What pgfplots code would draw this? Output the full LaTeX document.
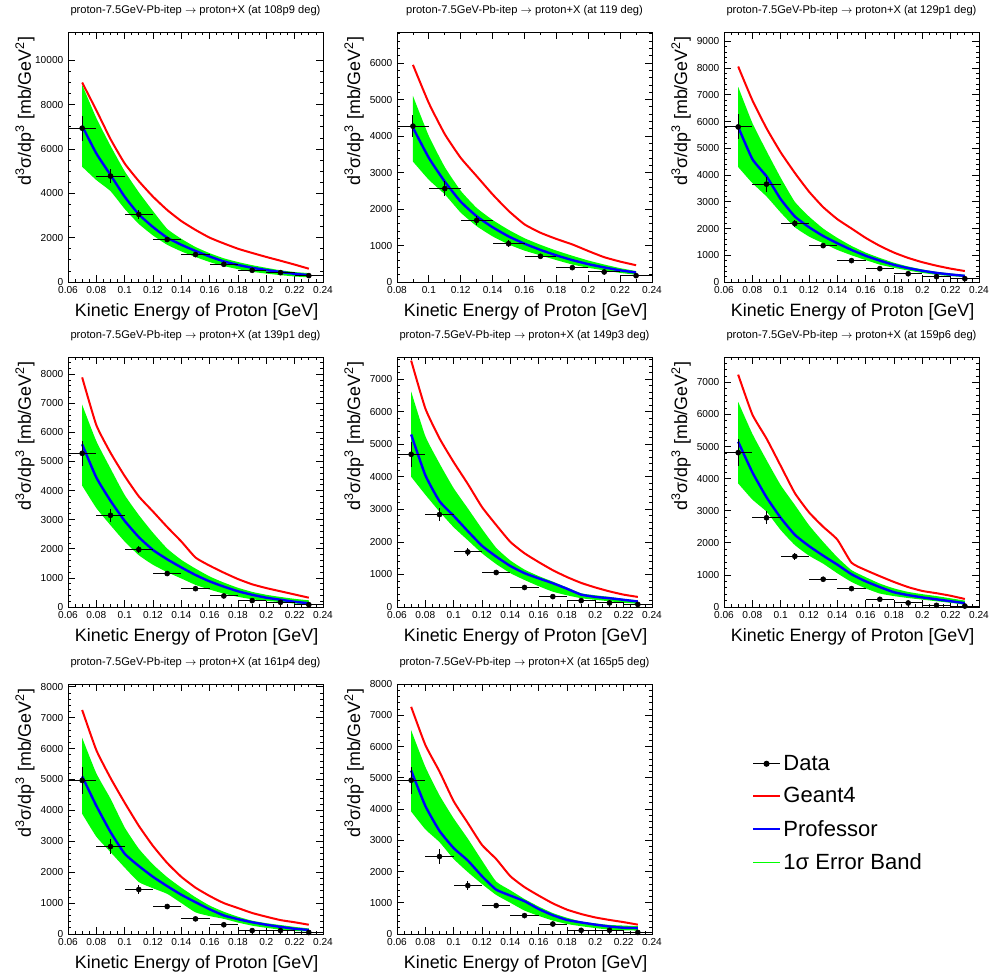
\documentclass[border=0pt]{standalone}
\usepackage{pgfplots}
\usepackage{pgfplotstable}
\usepgfplotslibrary{fillbetween}
\pgfplotsset{compat=1.18}
\usepackage{fontspec}
\setmainfont{Liberation Sans}
\definecolor{rootgreen}{RGB}{0,255,0}
\definecolor{rootred}{RGB}{255,0,0}
\definecolor{rootblue}{RGB}{0,0,255}

% ---------------- curves: x, Geant4, Professor, band upper, band lower
\pgfplotstableread{
x g4 prof up lo
0.07 9000 7040 8900 5200
0.08 7750 5800 7400 4600
0.09 6450 4830 6150 4100
0.10 5350 3850 5000 3300
0.11 4550 3050 4050 2620
0.12 3850 2480 3200 2100
0.13 3250 2000 2400 1680
0.14 2750 1680 1950 1380
0.15 2350 1400 1580 1130
0.16 2000 1150 1300 900
0.17 1740 930 1070 720
0.18 1500 770 900 580
0.19 1310 640 760 460
0.20 1130 540 640 380
0.21 960 450 530 310
0.22 785 370 450 250
0.23 600 310 400 210
}\curvesA
\pgfplotstableread{
x g4 prof up lo
0.09 5950 4230 5100 3300
0.10 4900 3400 4000 2800
0.11 4050 2750 3150 2400
0.12 3400 2200 2500 1900
0.13 2900 1800 2030 1530
0.14 2400 1500 1700 1250
0.15 1950 1250 1430 1030
0.16 1580 1050 1200 860
0.17 1350 880 1020 730
0.18 1180 730 860 600
0.19 1030 600 720 480
0.20 850 490 590 390
0.21 680 400 480 320
0.22 560 320 380 250
0.23 460 260 300 200
}\curvesB
\pgfplotstableread{
x g4 prof up lo
0.07 8060 5800 7300 4300
0.08 6800 4600 5950 3700
0.09 5750 3950 4900 3200
0.10 4850 3100 3900 2600
0.11 4080 2450 3000 2050
0.12 3380 2050 2450 1700
0.13 2800 1720 2000 1450
0.14 2350 1450 1650 1200
0.15 2000 1200 1350 1000
0.16 1650 980 1100 820
0.17 1350 800 900 650
0.18 1100 640 720 530
0.19 900 520 580 430
0.20 740 420 470 340
0.21 610 340 380 270
0.22 500 280 320 220
0.23 410 230 270 180
}\curvesC
\pgfplotstableread{
x g4 prof up lo
0.07 7890 5590 6950 4170
0.08 6250 4450 5700 3400
0.09 5300 3650 4760 2810
0.10 4500 2960 3850 2250
0.11 3800 2400 3160 1780
0.12 3280 1960 2550 1450
0.13 2750 1640 2010 1200
0.14 2250 1360 1620 980
0.15 1700 1100 1320 760
0.16 1420 880 1050 600
0.17 1180 700 840 460
0.18 960 540 660 350
0.19 780 420 520 265
0.20 650 320 420 210
0.21 540 250 345 170
0.22 430 180 280 120
0.23 320 130 230 80
}\curvesD
\pgfplotstableread{
x g4 prof up lo
0.07 7570 5300 6620 4000
0.08 6100 4050 5250 3450
0.09 5180 3250 4410 2930
0.10 4450 2800 3650 2450
0.11 3780 2330 3030 2050
0.12 3070 1880 2400 1650
0.13 2520 1550 1820 1320
0.14 2000 1260 1430 1040
0.15 1650 1040 1150 830
0.16 1380 880 950 640
0.17 1130 730 780 470
0.18 920 560 600 360
0.19 740 380 420 270
0.20 600 310 360 220
0.21 480 270 310 175
0.22 380 220 250 130
0.23 310 170 200 100
}\curvesE
\pgfplotstableread{
x g4 prof up lo
0.07 7240 5150 6390 3850
0.08 6000 4200 5400 3350
0.09 5250 3420 4580 2970
0.10 4400 2780 3800 2400
0.11 3550 2250 3180 1930
0.12 2950 1900 2550 1600
0.13 2500 1600 2030 1350
0.14 2100 1320 1550 1050
0.15 1380 1020 1150 780
0.16 1150 800 930 580
0.17 960 620 730 420
0.18 780 460 580 340
0.19 620 370 470 280
0.20 500 300 400 230
0.21 430 240 340 180
0.22 350 180 270 130
0.23 250 120 200 70
}\curvesF
\pgfplotstableread{
x g4 prof up lo
0.07 7250 5100 6350 3890
0.08 5950 4150 5200 3150
0.09 5050 3300 4380 2650
0.10 4250 2600 3450 2150
0.11 3500 2200 2760 1680
0.12 2850 1850 2250 1480
0.13 2300 1550 1840 1300
0.14 1850 1270 1500 1000
0.15 1500 1030 1190 700
0.16 1230 800 920 580
0.17 1000 600 720 490
0.18 840 480 560 370
0.19 680 380 430 270
0.20 560 300 350 200
0.21 450 230 290 140
0.22 380 170 230 100
0.23 300 130 180 80
}\curvesG
\pgfplotstableread{
x g4 prof up lo
0.07 7270 5230 6520 3920
0.08 6050 4100 5350 3350
0.09 5200 3300 4440 2940
0.10 4250 2750 3700 2400
0.11 3550 2350 3050 1980
0.12 2850 1850 2350 1600
0.13 2400 1420 1680 1250
0.14 1850 1230 1400 1000
0.15 1500 1050 1120 750
0.16 1230 800 880 580
0.17 980 600 670 430
0.18 780 450 520 320
0.19 640 370 400 250
0.20 530 300 340 190
0.21 450 240 290 140
0.22 380 200 270 120
0.23 300 190 250 110
}\curvesH

% ---------------- data: x, y, x error, y error
\pgfplotstableread{
x y ex ey
0.07 6940 0.01 570
0.09 4780 0.01 300
0.11 3050 0.01 200
0.13 1915 0.01 110
0.15 1237 0.01 80
0.17 800 0.01 60
0.19 528 0.01 40
0.21 422 0.01 30
0.23 287 0.01 25
}\dataA
\pgfplotstableread{
x y ex ey
0.09 4270 0.01 310
0.11 2560 0.01 200
0.13 1690 0.01 120
0.15 1050 0.01 90
0.17 705 0.01 60
0.19 394 0.01 40
0.21 275 0.01 30
0.23 174 0.01 25
}\dataB
\pgfplotstableread{
x y ex ey
0.07 5800 0.01 470
0.09 3660 0.01 280
0.11 2190 0.01 130
0.13 1360 0.01 80
0.15 800 0.01 50
0.17 500 0.01 40
0.19 310 0.01 30
0.21 200 0.01 25
0.23 125 0.01 20
}\dataC
\pgfplotstableread{
x y ex ey
0.07 5280 0.01 430
0.09 3150 0.01 230
0.11 1975 0.01 130
0.13 1150 0.01 70
0.15 630 0.01 50
0.17 380 0.01 40
0.19 220 0.01 30
0.21 160 0.01 25
0.23 80 0.01 20
}\dataD
\pgfplotstableread{
x y ex ey
0.07 4690 0.01 390
0.09 2840 0.01 200
0.11 1690 0.01 120
0.13 1060 0.01 70
0.15 600 0.01 50
0.17 320 0.01 35
0.19 195 0.01 25
0.21 125 0.01 20
0.23 80 0.01 15
}\dataE
\pgfplotstableread{
x y ex ey
0.07 4810 0.01 420
0.09 2780 0.01 200
0.11 1580 0.01 100
0.13 865 0.01 60
0.15 573 0.01 40
0.17 240 0.01 30
0.19 125 0.01 20
0.21 52 0.01 15
0.23 30 0.01 10
}\dataF
\pgfplotstableread{
x y ex ey
0.07 4970 0.01 430
0.09 2830 0.01 230
0.11 1440 0.01 130
0.13 890 0.01 70
0.15 490 0.01 40
0.17 300 0.01 30
0.19 110 0.01 20
0.21 110 0.01 20
0.23 50 0.01 10
}\dataG
\pgfplotstableread{
x y ex ey
0.07 4920 0.01 430
0.09 2480 0.01 230
0.11 1550 0.01 150
0.13 910 0.01 70
0.15 590 0.01 50
0.17 320 0.01 35
0.19 118 0.01 20
0.21 118 0.01 20
0.23 50 0.01 10
}\dataH

\pgfplotsset{
  panel/.style={
    scale only axis, width=191.25pt, height=187.5pt,
    anchor=north west,
    ymin=0, xmax=0.24,
    scaled y ticks=false, scaled x ticks=false,
    axis line style={line width=0.75pt},
    every tick/.style={black, line width=0.6pt},
    tick align=inside, xtick pos=both, ytick pos=both,
    major tick length=5.2pt, minor tick length=2.6pt,
    ticklabel style={font=\fontsize{7.6}{9}\selectfont},
    /pgf/number format/assume math mode=true,
    /pgf/number format/1000 sep={},
    xlabel={Kinetic Energy of Proton [GeV]},
    ylabel={d\textsuperscript{3}σ/dp\textsuperscript{3} [mb/GeV\textsuperscript{2}]},
    label style={font=\fontsize{13.4}{15}\selectfont},
    xlabel style={at={(rel axis cs:1,0)}, anchor=base east, yshift=-26pt},
    ylabel style={at={(rel axis cs:0,1)}, anchor=base east, yshift=27.75pt},
    title style={font=\fontsize{8.35}{9}\selectfont, at={(rel axis cs:0.5,1)}, anchor=base, yshift=7.7pt},
  },
  xfrom06/.style={xmin=0.06, xtick={0.06,0.08,0.10,0.12,0.14,0.16,0.18,0.20,0.22,0.24},
    xticklabels={0.06,0.08,0.1,0.12,0.14,0.16,0.18,0.2,0.22,0.24}, minor x tick num=3},
  xfrom08/.style={xmin=0.08, xtick={0.08,0.10,0.12,0.14,0.16,0.18,0.20,0.22,0.24},
    xticklabels={0.08,0.1,0.12,0.14,0.16,0.18,0.2,0.22,0.24}, minor x tick num=1},
  ystep1000/.style={ytick distance=1000, minor y tick num=4},
}

\newcommand{\panelplots}[2]{%
  \addplot[name path=up, draw=none, forget plot, smooth, tension=0.3] table[x=x, y=up] {#1};
  \addplot[name path=lo, draw=none, forget plot, smooth, tension=0.3] table[x=x, y=lo] {#1};
  \addplot[rootgreen, draw=none, forget plot] fill between[of=up and lo];
  \addplot[rootred, line width=1.5pt, forget plot, smooth, tension=0.3] table[x=x, y=g4] {#1};
  \addplot[rootblue, line width=1.8pt, forget plot, smooth, tension=0.3] table[x=x, y=prof] {#1};
  \addplot[black, only marks, mark=*, mark size=1.9pt, forget plot,
    error bars/.cd, x dir=both, x explicit, y dir=both, y explicit,
    error mark=none, error bar style={line width=0.75pt, black}]
    table[x=x, y=y, x error=ex, y error=ey] {#2};
}

\newcommand{\ttl}[1]{proton-7.5GeV-Pb-itep $\rightarrow$ proton+X (at #1 deg)}

\begin{document}
\begin{tikzpicture}

% row 1
\begin{axis}[panel, xfrom06, at={(51pt,-24pt)}, ymax=11280,
  ytick={0,2000,4000,6000,8000,10000}, minor y tick num=3, title={\ttl{108p9}}]
\panelplots{\curvesA}{\dataA}
\end{axis}
\begin{axis}[panel, xfrom08, at={(297.75pt,-24pt)}, ymax=6850, ystep1000, title={\ttl{119}}]
\panelplots{\curvesB}{\dataB}
\end{axis}
\begin{axis}[panel, xfrom06, at={(543pt,-24pt)}, ymax=9350, ystep1000, title={\ttl{129p1}}]
\panelplots{\curvesC}{\dataC}
\end{axis}

% row 2
\begin{axis}[panel, xfrom06, at={(51pt,-267.75pt)}, ymax=8590, ystep1000, title={\ttl{139p1}}]
\panelplots{\curvesD}{\dataD}
\end{axis}
\begin{axis}[panel, xfrom06, at={(297.75pt,-267.75pt)}, ymax=7680, ystep1000, title={\ttl{149p3}}]
\panelplots{\curvesE}{\dataE}
\end{axis}
\begin{axis}[panel, xfrom06, at={(543pt,-267.75pt)}, ymax=7790, ystep1000, title={\ttl{159p6}}]
\panelplots{\curvesF}{\dataF}
\end{axis}

% row 3
\begin{axis}[panel, xfrom06, at={(51pt,-513pt)}, ymax=8090, ystep1000, title={\ttl{161p4}}]
\panelplots{\curvesG}{\dataG}
\end{axis}
\begin{axis}[panel, xfrom06, at={(297.75pt,-513pt)}, ymax=8000, ystep1000, title={\ttl{165p5}},
  legend style={at={(rel axis cs:1.392,0.727)}, anchor=north west, draw=none, fill=none,
    inner sep=0pt, font=\fontsize{16.5}{16.5}\selectfont, row sep=7.4pt,
    cells={anchor=west}},
  legend image code/.code={\draw[mark repeat=2, mark phase=2, #1]
    plot coordinates {(0cm,0cm) (0.345cm,0cm) (0.69cm,0cm)};}]
\panelplots{\curvesH}{\dataH}
\addlegendimage{black, line width=0.75pt, mark=*, mark size=1.9pt}
\addlegendentry{Data}
\addlegendimage{rootred, line width=1.5pt}
\addlegendentry{Geant4}
\addlegendimage{rootblue, line width=1.8pt}
\addlegendentry{Professor}
\addlegendimage{draw=rootgreen, line width=0.8pt}
\addlegendentry{1σ Error Band}
\end{axis}
\path (0pt,0pt) rectangle (747pt,-729pt);
\end{tikzpicture}
\end{document}
